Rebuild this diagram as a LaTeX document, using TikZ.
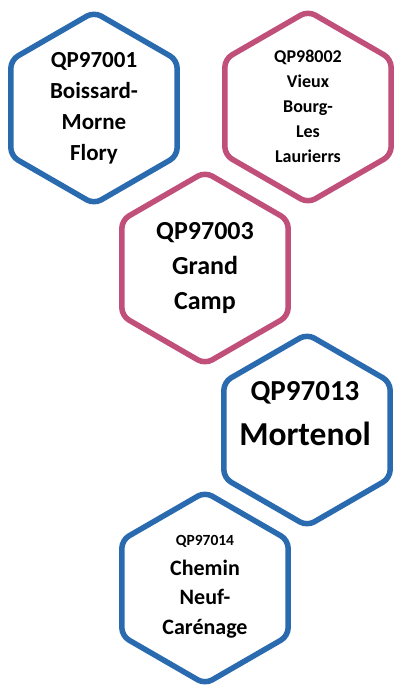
\documentclass[tikz,border=0pt]{standalone}
\usepackage{fontspec}
\setmainfont{Carlito}
\usetikzlibrary{shapes.geometric}
\definecolor{hexblue}{RGB}{42,107,176}
\definecolor{hexpink}{RGB}{192,79,122}
\tikzset{
	hexa/.style={regular polygon, regular polygon sides=6, shape border rotate=30,
		minimum size=192pt, inner sep=0pt, line width=5.5pt, rounded corners=8pt, fill=white},
	hexb/.style={hexa, draw=hexblue},
	hexp/.style={hexa, draw=hexpink},
	lbl/.style={align=center, inner sep=0pt}
}
\begin{document}
\begin{tikzpicture}[x=1pt,y=-1pt]
			\useasboundingbox (0,0) rectangle (398,697);
			% hexagons
			\node[hexb] (h1) at (94,108) {};
			\node[hexp] (h2) at (308,107) {};
			\node[hexp] (h3) at (205,268) {};
			\node[hexb] (h4) at (307,430) {};
			\node[hexb] (h5) at (205,588) {};
			% texts
			\node[lbl, font=\bfseries\fontsize{23}{31}\selectfont] (t1) at (h1) {QP97001\\Boissard-\\Morne\\Flory};
			\node[lbl, font=\bfseries\fontsize{18}{25}\selectfont] (t2) at ([yshift=1]h2.center) {QP98002\\Vieux\\Bourg-\\Les\\Laurierrs};
			\node[lbl, font=\bfseries\fontsize{26}{35}\selectfont] (t3) at (h3) {QP97003\\Grand\\Camp};
			\node[lbl, font=\bfseries\fontsize{29}{45}\selectfont] (t4) at (305,414) {QP97013\\\fontsize{33.5}{45}\selectfont Mortenol};
			\node[lbl, font=\bfseries\fontsize{22}{29.5}\selectfont] (t5) at ([yshift=1]h5.center) {\fontsize{15.5}{26}\selectfont QP97014\\Chemin\\Neuf-\\Carénage};
\end{tikzpicture}
\end{document}
